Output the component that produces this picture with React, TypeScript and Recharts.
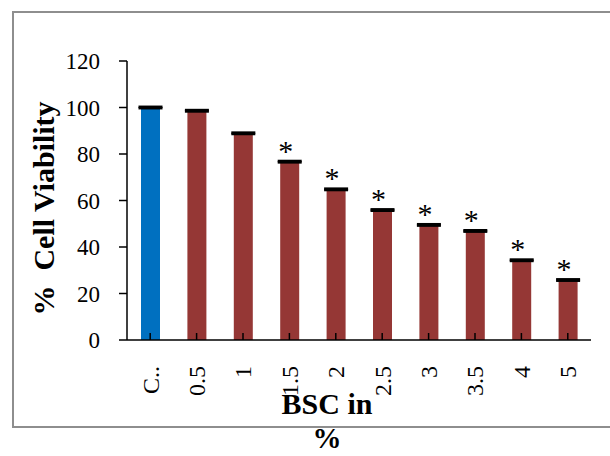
import React from 'react'
import {
  BarChart,
  Bar,
  Cell,
  XAxis,
  YAxis,
  ErrorBar,
  LabelList,
  Label,
} from 'recharts'

const categories = ['C..', '0.5', '1', '1.5', '2', '2.5', '3', '3.5', '4', '5']
const viability = [100, 98.6, 88.9, 76.7, 64.8, 55.9, 49.5, 46.9, 34.3, 25.8]
const errors = [0.3, 0.3, 0.3, 0.3, 0.3, 0.3, 0.3, 0.3, 0.3, 0.3]
const marks = ['', '', '', '*', '*', '*', '*', '*', '*', '*']
const yTicks = [0, 20, 40, 60, 80, 100, 120]

const FONT = '"Liberation Serif", "Times New Roman", serif'
const CONTROL_COLOUR = '#0070C0'
const TREATED_COLOUR = '#953735'

const data = categories.map((name, i) => ({
  name,
  value: viability[i],
  err: errors[i],
  mark: marks[i],
}))

function XTick(props: any) {
  const { x, y, payload } = props
  return (
    <g>
      <line x1={x} y1={y} x2={x} y2={y - 7} stroke="#000" strokeWidth={1.5} />
      <text
        x={x}
        y={y + 26}
        transform={`rotate(-90 ${x} ${y + 26})`}
        textAnchor="end"
        dy="0.35em"
        fontSize={24}
        fill="#000"
        style={{ fontFamily: FONT }}
      >
        {payload.value}
      </text>
    </g>
  )
}

function YTick(props: any) {
  const { x, y, payload } = props
  return (
    <text
      x={x}
      y={y}
      textAnchor="end"
      dy="0.35em"
      fontSize={23}
      fill="#000"
      style={{ fontFamily: FONT }}
    >
      {payload.value}
    </text>
  )
}

function StarLabel(props: any) {
  const { x, y, width, value } = props
  if (!value) return null
  return (
    <text
      x={x + width / 2 - 4}
      y={y - 1}
      textAnchor="middle"
      fontSize={30}
      fill="#000"
      style={{ fontFamily: FONT }}
    >
      {value}
    </text>
  )
}

function XTitle(props: any) {
  const { viewBox } = props
  const cx = viewBox.x + viewBox.width / 2 - 32
  const style = { fontFamily: FONT }
  return (
    <g>
      <text x={cx} y={414} textAnchor="middle" fontWeight="bold" fontSize={30} fill="#000" style={style}>
        BSC in
      </text>
      <text x={cx} y={448} textAnchor="middle" fontWeight="bold" fontSize={29} fill="#000" style={style}>
        %
      </text>
    </g>
  )
}

function YTitle(props: any) {
  const { viewBox } = props
  const cx = 43
  const cy = viewBox.y + viewBox.height / 2 + 8
  return (
    <text
      x={cx}
      y={cy}
      transform={`rotate(-90 ${cx} ${cy})`}
      textAnchor="middle"
      dy="0.35em"
      fontWeight="bold"
      fontSize={30}
      fill="#000"
      style={{ fontFamily: FONT, whiteSpace: 'pre' }}
    >
      {'%  Cell Viability'}
    </text>
  )
}

export default function App() {
  return (
    <div
      style={{
        position: 'absolute',
        left: 0,
        top: 0,
        width: 610,
        height: 456,
        background: '#fff',
        overflow: 'hidden',
      }}
    >
      <div
        style={{
          position: 'absolute',
          left: 12,
          top: 11,
          width: 620,
          height: 413,
          border: '2.5px solid #8e8e8e',
        }}
      />
      <div style={{ position: 'absolute', left: 0, top: 0 }}>
        <BarChart
          width={610}
          height={456}
          data={data}
          margin={{ top: 61, right: 19, bottom: 0, left: 0 }}
          barCategoryGap={0}
        >
          <XAxis
            dataKey="name"
            height={116}
            axisLine={{ stroke: '#000', strokeWidth: 1.5 }}
            tickLine={false}
            tickSize={0}
            tickMargin={0}
            tick={<XTick />}
            interval={0}
          >
            <Label content={<XTitle />} />
          </XAxis>
          <YAxis
            width={127}
            domain={[0, 120]}
            ticks={yTicks}
            interval={0}
            axisLine={{ stroke: '#000', strokeWidth: 1.5 }}
            tickLine={{ stroke: '#000', strokeWidth: 1.5 }}
            tickSize={8}
            tickMargin={19}
            tick={<YTick />}
          >
            <Label content={<YTitle />} />
          </YAxis>
          <Bar dataKey="value" barSize={19} isAnimationActive={false}>
            {data.map((d, i) => (
              <Cell key={d.name} fill={i === 0 ? CONTROL_COLOUR : TREATED_COLOUR} />
            ))}
            <ErrorBar dataKey="err" width={12} stroke="#000" strokeWidth={2.5} direction="y" />
            <LabelList dataKey="mark" content={<StarLabel />} />
          </Bar>
        </BarChart>
      </div>
    </div>
  )
}
